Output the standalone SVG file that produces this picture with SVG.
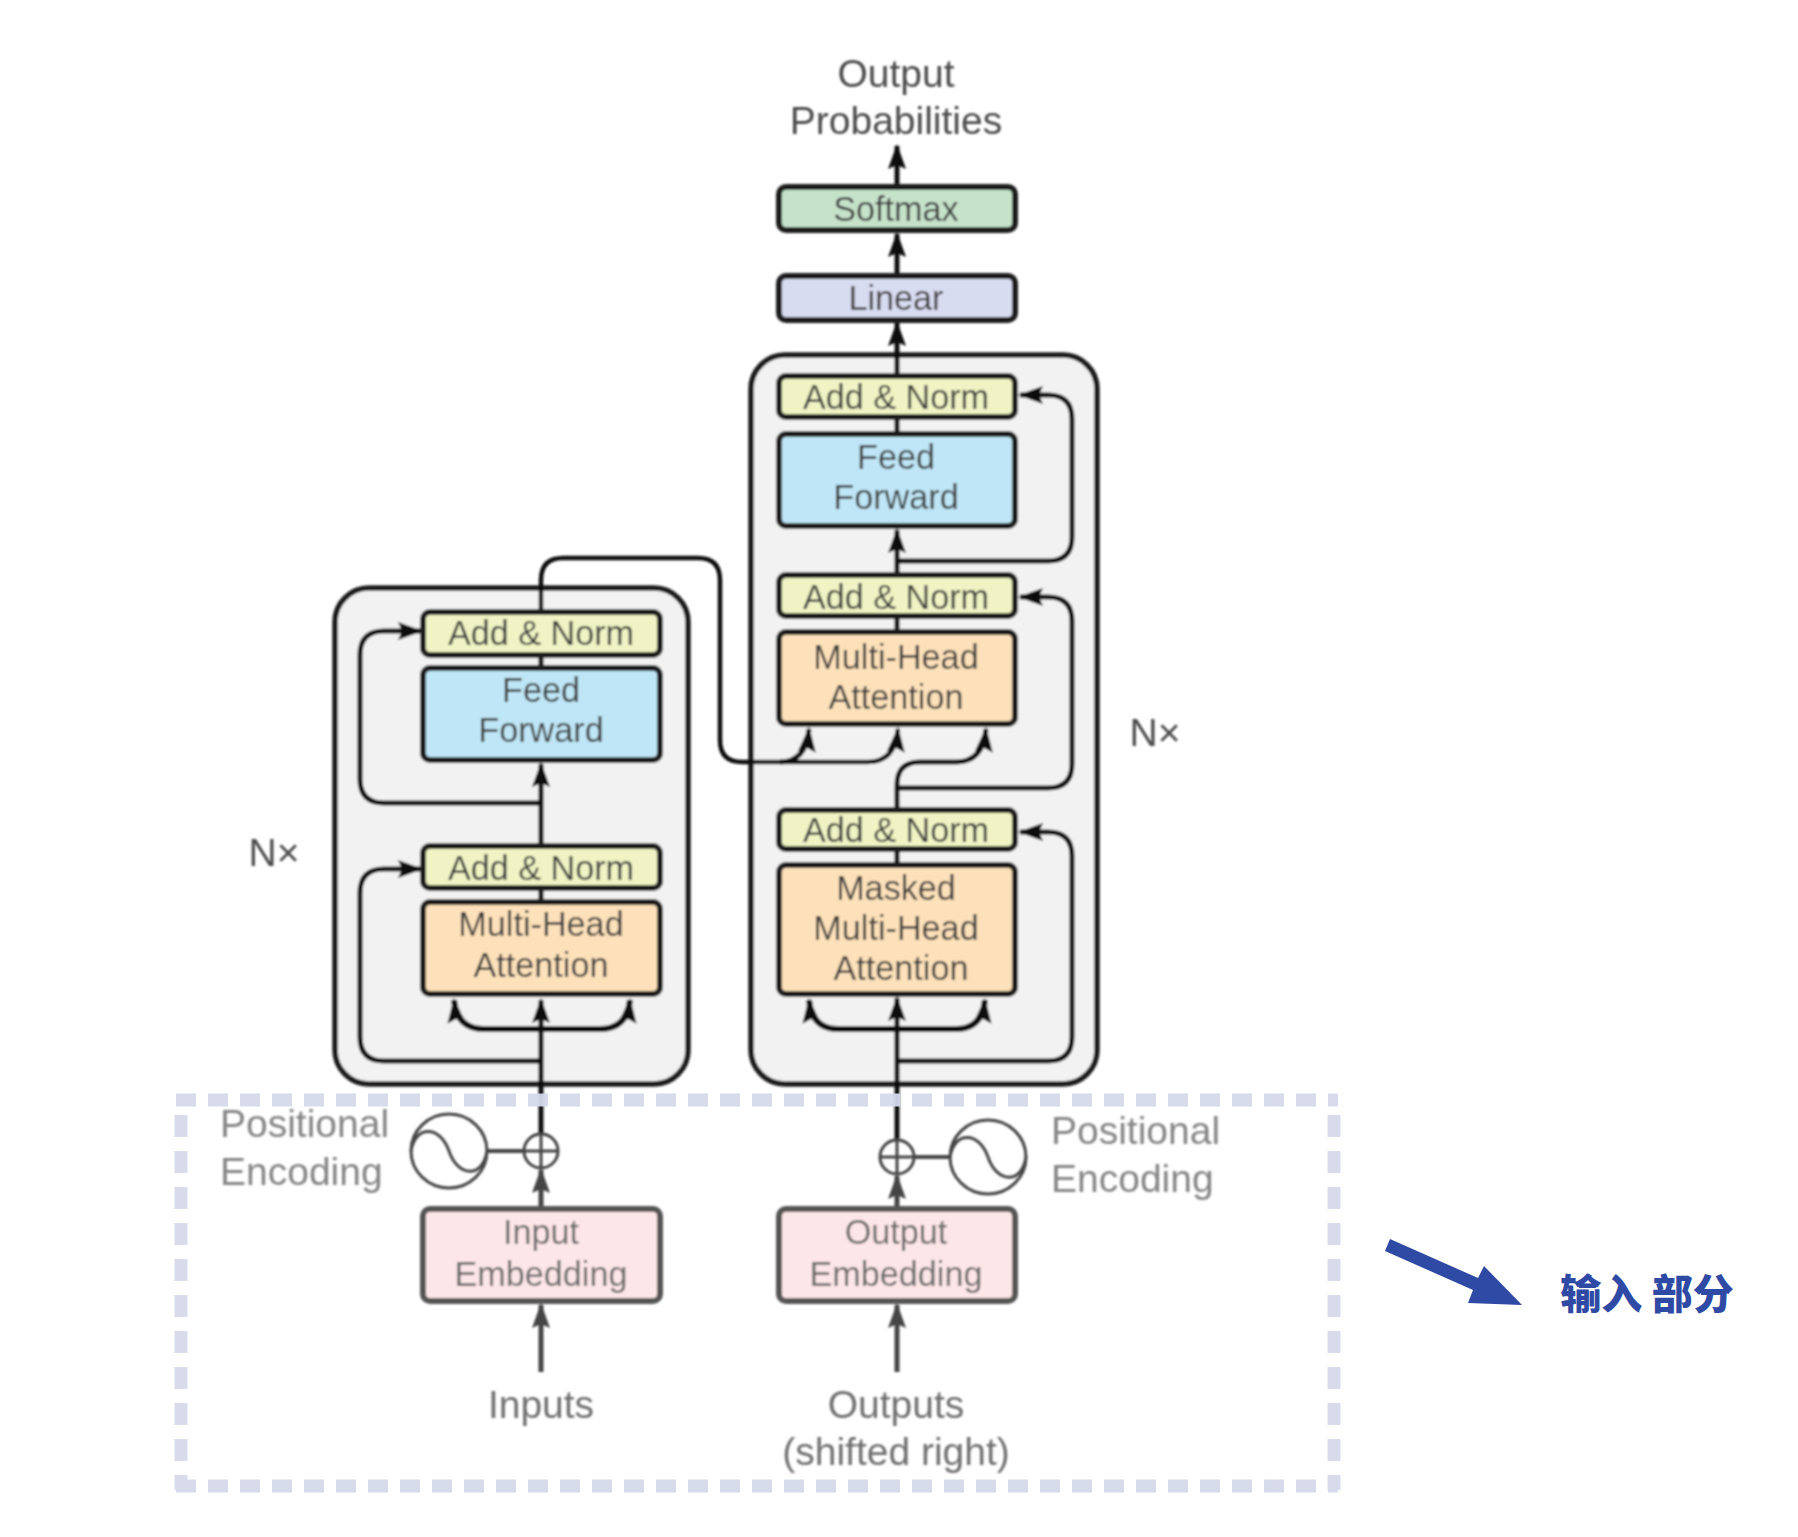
<svg xmlns="http://www.w3.org/2000/svg" width="1798" height="1537" viewBox="0 0 1798 1537">
  <style>
    text { font-family: "Liberation Sans", Arial, sans-serif; text-anchor: middle; }
    .t { font-size: 34.2px; fill: #3c3c3c; }
    .o { font-size: 39px; fill: #4c4c4c; }
    .f { font-size: 34.2px; fill: #6a6a6a; }
    .h { font-size: 39px; fill: #6f6f6f; }
    .g { font-size: 39px; fill: #858585; text-anchor: start; }
    .box { stroke: #1c1c1c; stroke-width: 6; }
    .panel { fill: #f2f2f2; stroke: #1c1c1c; stroke-width: 5.5; }
    .an { fill: #f0f4c4; } .ff { fill: #bfe6f6; } .mh { fill: #fde1ba; }
    .em { fill: #fde6e7; stroke: #555; stroke-width: 6; }
    .c { fill: none; stroke: #111; stroke-width: 5; }
    .b { fill: none; stroke: #111; stroke-width: 6; }
    .c2 { fill: none; stroke: #444; stroke-width: 5; }
    .thin { fill: none; stroke: #444; stroke-width: 3; }
    .dash { fill: none; stroke: #d5daec; stroke-width: 13; }
  </style>
  <defs>
    <filter id="soft" x="-5%" y="-5%" width="110%" height="110%"><feGaussianBlur stdDeviation="1.2"/></filter>
    <marker id="head" markerUnits="userSpaceOnUse" markerWidth="28" markerHeight="28" refX="24" refY="14" orient="auto">
      <path d="M1 5 L26 14 L1 23 L5 14 Z" fill="#111"/>
    </marker>
    <marker id="headg" markerUnits="userSpaceOnUse" markerWidth="28" markerHeight="28" refX="24" refY="14" orient="auto">
      <path d="M1 5 L26 14 L1 23 L5 14 Z" fill="#444"/>
    </marker>
  </defs>

  <g filter="url(#soft)">
    <g id="encoder-panel"><rect class="panel" x="335" y="588" width="353" height="496" rx="34"/></g>
    <g id="decoder-panel"><rect class="panel" x="751" y="355" width="346" height="729" rx="34"/></g>

    <g id="connectors">
      <!-- encoder stack -->
      <path class="c" d="M541 1135V1000" marker-end="url(#head)"/>
      <path class="b" d="M541 1029H484Q457 1029 454 1000" marker-end="url(#head)"/>
      <path class="b" d="M541 1029H600Q627 1029 630 1000" marker-end="url(#head)"/>
      <path class="c" d="M541 1061H384Q360 1061 360 1037V893Q360 869 384 869H421" marker-end="url(#head)"/>
      <path class="c" d="M541 902V889"/>
      <path class="c" d="M541 846V764" marker-end="url(#head)"/>
      <path class="c" d="M541 803H384Q360 803 360 779V655Q360 631 384 631H421" marker-end="url(#head)"/>
      <path class="c" d="M541 668V655"/>
      <!-- encoder output feeding the decoder attention -->
      <path class="c" style="stroke-width:4.5" d="M541 612V580Q541 558 563 558H698Q720 558 720 580V740Q720 762 742 762H868Q895 762 898 729" marker-end="url(#head)"/>
      <path class="c" d="M780 762Q806 762 809 729" marker-end="url(#head)"/>
      <!-- decoder stack -->
      <path class="c" d="M897 1140V998" marker-end="url(#head)"/>
      <path class="b" d="M897 1029H838Q812 1029 809 1000" marker-end="url(#head)"/>
      <path class="b" d="M897 1029H956Q982 1029 985 1000" marker-end="url(#head)"/>
      <path class="c" d="M897 1061H1048Q1072 1061 1072 1037V856Q1072 832 1048 832H1020" marker-end="url(#head)"/>
      <path class="c" d="M897 865V850"/>
      <path class="c" d="M897 810V785Q897 762 920 762H956Q983 762 986 729" marker-end="url(#head)"/>
      <path class="c" d="M897 788H1048Q1072 788 1072 764V621Q1072 597 1048 597H1020" marker-end="url(#head)"/>
      <path class="c" d="M897 633V617"/>
      <path class="c" d="M897 576V530" marker-end="url(#head)"/>
      <path class="c" d="M897 561H1048Q1072 561 1072 537V419Q1072 395 1048 395H1020" marker-end="url(#head)"/>
      <path class="c" d="M897 435V417"/>
      <path class="c" d="M897 376V323" marker-end="url(#head)"/>
      <path class="c" d="M897 276V234" marker-end="url(#head)"/>
      <path class="c" d="M897 187V146" marker-end="url(#head)"/>
      <!-- embedding inputs -->
      <path class="c2" d="M541 1209V1170" marker-end="url(#headg)"/>
      <path class="c2" d="M897 1209V1176" marker-end="url(#headg)"/>
      <path class="c2" d="M541 1372V1305" marker-end="url(#headg)"/>
      <path class="c2" d="M897 1372V1305" marker-end="url(#headg)"/>
      <path class="thin" style="stroke-width:4" d="M488 1151H524"/>
      <path class="thin" style="stroke-width:4" d="M914 1157H950"/>
    </g>

    <g id="output-label"><text class="o" x="896" y="87">Output</text><text class="o" x="896" y="134">Probabilities</text></g>
    <g id="softmax"><rect class="box" x="779" y="187" width="236" height="43" rx="7" fill="#c6e3ca"/><text class="t" x="896" y="221">Softmax</text></g>
    <g id="linear"><rect class="box" x="779" y="276" width="236" height="44" rx="7" fill="#d8dcf0"/><text class="t" x="896" y="310">Linear</text></g>

    <g id="dec-addnorm-3"><rect class="box an" x="779" y="376" width="236" height="41" rx="7"/><text class="t" x="896" y="409">Add &amp; Norm</text></g>
    <g id="dec-feedforward"><rect class="box ff" x="779" y="434" width="236" height="92" rx="7"/><text class="t" x="896" y="469">Feed</text><text class="t" x="896" y="509">Forward</text></g>
    <g id="dec-addnorm-2"><rect class="box an" x="779" y="575" width="236" height="41" rx="7"/><text class="t" x="896" y="609">Add &amp; Norm</text></g>
    <g id="dec-attention"><rect class="box mh" x="779" y="632" width="236" height="92" rx="7"/><text class="t" x="896" y="669">Multi-Head</text><text class="t" x="896" y="709">Attention</text></g>
    <g id="dec-addnorm-1"><rect class="box an" x="779" y="810" width="236" height="39" rx="7"/><text class="t" x="896" y="842">Add &amp; Norm</text></g>
    <g id="dec-masked"><rect class="box mh" x="779" y="865" width="236" height="129" rx="7"/><text class="t" x="896" y="900">Masked</text><text class="t" x="896" y="940">Multi-Head</text><text class="t" x="901" y="980">Attention</text></g>

    <g id="enc-addnorm-2"><rect class="box an" x="423" y="612" width="237" height="43" rx="7"/><text class="t" x="541" y="645">Add &amp; Norm</text></g>
    <g id="enc-feedforward"><rect class="box ff" x="423" y="668" width="237" height="92" rx="7"/><text class="t" x="541" y="702">Feed</text><text class="t" x="541" y="742">Forward</text></g>
    <g id="enc-addnorm-1"><rect class="box an" x="423" y="846" width="237" height="42" rx="7"/><text class="t" x="541" y="880">Add &amp; Norm</text></g>
    <g id="enc-attention"><rect class="box mh" x="423" y="902" width="237" height="92" rx="7"/><text class="t" x="541" y="936">Multi-Head</text><text class="t" x="541" y="977">Attention</text></g>

    <g id="enc-repeat"><text class="o" x="274" y="866">N×</text></g>
    <g id="dec-repeat"><text class="o" x="1155" y="746">N×</text></g>

    <g id="enc-plus"><circle class="thin" cx="541" cy="1151" r="17"/><path class="thin" d="M524 1151H558M541 1134V1168"/></g>
    <g id="dec-plus"><circle class="thin" cx="897" cy="1157" r="17"/><path class="thin" d="M880 1157H914M897 1140V1174"/></g>
    <g id="enc-sine"><ellipse class="thin" cx="449" cy="1151" rx="38" ry="37"/><path class="thin" d="M411 1151C415 1125 440 1125 449 1151C458 1178 483 1178 487 1151"/></g>
    <g id="dec-sine"><ellipse class="thin" cx="988" cy="1157" rx="38" ry="37"/><path class="thin" d="M950 1157C954 1131 979 1131 988 1157C997 1184 1022 1184 1026 1157"/></g>
    <g id="enc-pos-label"><text class="g" x="220" y="1137">Positional</text><text class="g" x="220" y="1185">Encoding</text></g>
    <g id="dec-pos-label"><text class="g" x="1051" y="1144">Positional</text><text class="g" x="1051" y="1192">Encoding</text></g>

    <g id="input-embedding"><rect class="em" x="423" y="1209" width="237" height="92" rx="7"/><text class="f" x="541" y="1244">Input</text><text class="f" x="541" y="1286">Embedding</text></g>
    <g id="output-embedding"><rect class="em" x="779" y="1209" width="236" height="92" rx="7"/><text class="f" x="896" y="1244">Output</text><text class="f" x="896" y="1286">Embedding</text></g>
    <g id="inputs-label"><text class="h" x="541" y="1418">Inputs</text></g>
    <g id="outputs-label"><text class="h" x="896" y="1418">Outputs</text><text class="h" x="896" y="1465">(shifted right)</text></g>
  </g>

  <!-- dashed outline of the input section -->
  <g id="input-section" opacity="0.95">
    <path class="dash" d="M176 1100H1338" stroke-dasharray="20 12"/>
    <path class="dash" d="M176 1486H1338" stroke-dasharray="20 12"/>
    <path class="dash" d="M181 1115V1490" stroke-dasharray="22 14"/>
    <path class="dash" d="M1334 1115V1490" stroke-dasharray="22 14"/>
  </g>

  <g id="input-callout">
    <polygon points="1390,1239 1478,1278 1484,1266 1522,1305 1468,1303 1473,1290 1385,1251" fill="#2f4aa5"/>
    <text x="1647" y="1309" style="font-family:'Noto Sans CJK SC','Liberation Sans',sans-serif;font-size:41px;font-weight:900;fill:#2f4aa5">输入 部分</text>
  </g>
</svg>
